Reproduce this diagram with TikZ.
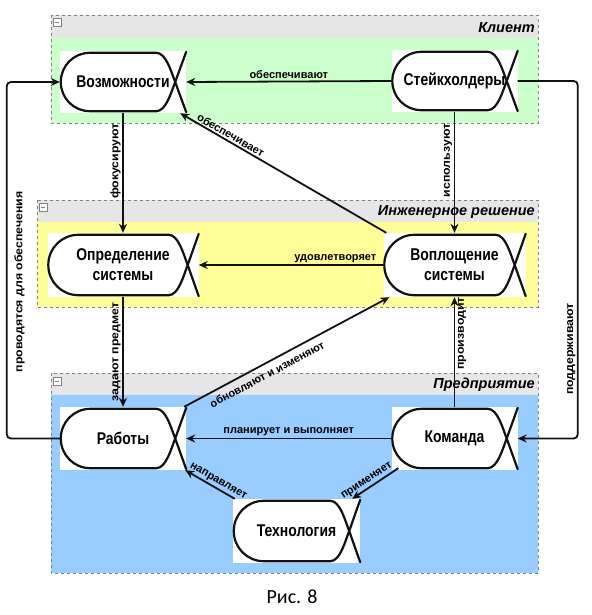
\documentclass[tikz,border=0pt]{standalone}
\usepackage{fontspec}
\setmainfont{Liberation Sans}
\newfontfamily\nodefont[FakeStretch=0.82]{Liberation Sans}
\newfontfamily\vfont[FakeStretch=1.12]{Liberation Sans}
\newfontfamily\capfont{Carlito}
\usetikzlibrary{arrows.meta,calc}
\definecolor{cgreen}{HTML}{CCFFCC}
\definecolor{cyellow}{HTML}{FFFF99}
\definecolor{cblue}{HTML}{99CCFF}
\definecolor{chead}{HTML}{E6E6E6}
\definecolor{cborder}{HTML}{808080}
\definecolor{cline}{HTML}{111111}
\begin{document}
\begin{tikzpicture}[x=1pt,y=-1pt,
  actor/.style={fill=white, inner sep=0pt, minimum height=62pt, font=\nodefont\bfseries\fontsize{17}{20}\selectfont, align=center},
  outl/.style={draw=cline, line width=2.2pt, line cap=round, line join=round},
  conn/.style={draw=cline, line width=1.8pt, -{Stealth[length=9pt,width=8pt]}},
  lbl/.style={font=\bfseries\fontsize{11}{12}\selectfont, inner sep=1.5pt},
  vlbl/.style={font=\vfont\bfseries\fontsize{11}{12}\selectfont, inner sep=1.5pt, rotate=90},
  ctitle/.style={font=\bfseries\itshape\fontsize{14.5}{16}\selectfont, anchor=east, inner sep=1pt},
  cframe/.style={draw=cborder, dashed, line width=0.6pt},
  mbox/.style={draw=cborder, line width=0.5pt}
]
\useasboundingbox (0,0) rectangle (591,615);

% container 1
\fill[chead] (51,15) rectangle (538,38);
\fill[cgreen] (51,38) rectangle (538,123);
\draw[cframe] (51,15) rectangle (538,123);
\draw[mbox, fill=white] (53,18) rectangle (61,26); \draw[mbox] (55,22) -- (59,22);
\node[ctitle] (t1) at (536,28) {Клиент};
% container 2
\fill[chead] (37,200) rectangle (538,222);
\fill[cyellow] (37,222) rectangle (538,307);
\draw[cframe] (37,200) rectangle (538,307);
\draw[mbox, fill=white] (39,203) rectangle (47,211); \draw[mbox] (41,207) -- (45,207);
\node[ctitle] (t2) at (536,212) {Инженерное решение};
% container 3
\fill[chead] (51,373) rectangle (538,395);
\fill[cblue] (51,395) rectangle (538,573);
\draw[cframe] (51,373) rectangle (538,573);
\draw[mbox, fill=white] (53,377) rectangle (61,385); \draw[mbox] (55,381) -- (59,381);
\node[ctitle] (t3) at (536,385) {Предприятие};

% nodes
\node[actor, minimum width=126pt] (voz) at (123,82) {Возможности};
\node[actor, minimum width=126pt] (stk) at (454.5,81) {Стейкхолдеры};
\node[actor, minimum width=151pt, minimum height=64pt] (opr) at (123,265) {Определение\\системы};
\node[actor, minimum width=142pt, minimum height=64pt] (vop) at (454.5,265) {Воплощение\\системы};
\node[actor, minimum width=126pt, minimum height=63pt] (rab) at (123,438.5) {Работы};
\node[actor, minimum width=126pt, minimum height=63pt] (kom) at (454.5,438.5) {Команда};
\node[actor, minimum width=127pt, minimum height=64pt] (tech) at (296.5,531) {Технология};

\foreach \n/\r in {voz/29, stk/29, opr/30, vop/30, rab/29.5, kom/29.5, tech/30} {
  \draw[outl, rounded corners=\r pt] ($(\n.north east)+(-30,2)$) -- ($(\n.north west)+(1,2)$) -- ($(\n.south west)+(1,-2)$) -- ($(\n.south east)+(-30,-2)$);
  \draw[outl] ($(\n.north east)+(-30,2)$) .. controls ($(\n.north east)+(-20,2)$) and ($(\n.east)+(-15,-10)$) .. ($(\n.east)+(-11,0)$) -- ($(\n.south east)+(0,-1)$);
  \draw[outl] ($(\n.south east)+(-30,-2)$) .. controls ($(\n.south east)+(-20,-2)$) and ($(\n.east)+(-15,10)$) .. ($(\n.east)+(-11,0)$) -- ($(\n.north east)+(0,1)$);
}

% connectors
\draw[conn] (stk.west) -- node[lbl, above, pos=0.5] (l1) {обеспечивают} (voz.east);
\draw[conn] ($(vop.north west)+(3,0)$) -- node[lbl, sloped, above, pos=0.77] (l2) {обеспечивает} ($(voz.south east)+(-6,0)$);
\draw[conn] (voz.south) -- node[vlbl, anchor=south, pos=0.4] (l3) {фокусируют} (opr.north);
\draw[conn] (stk.south) -- node[vlbl, anchor=south, pos=0.4] (l4) {используют} (vop.north);
\draw[conn] (vop.west) -- node[lbl, above, pos=0.26] (l5) {удовлетворяет} (opr.east);
\draw[conn] (opr.south) -- node[vlbl, anchor=south, midway] (l6) {задают предмет} (rab.north);
\draw[conn, rounded corners=4pt] (rab.west) -- ++(-53,0) |- node[vlbl, anchor=north, outer sep=6pt, pos=0.22] (l7) {проводятся для обеспечения} (voz.west);
\draw[conn] ($(rab.north east)+(-2,0)$) -- node[lbl, sloped, below=4pt, pos=0.38] (l8) {обновляют и изменяют} ($(vop.south west)+(6,0)$);
\draw[conn] (kom.west) -- node[lbl, above, midway] (l9) {планирует и выполняет} (rab.east);
\draw[conn] (kom.north) -- node[vlbl, anchor=north, outer sep=2pt, pos=0.67] (l10) {производит} (vop.south);
\draw[conn, rounded corners=4pt] (stk.east) -- ++(60,0) |- node[vlbl, anchor=south, pos=0.375] (l11) {поддерживают} (kom.east);
\draw[conn] ($(tech.north west)+(2,0)$) -- node[lbl, sloped, above, pos=0.4] (l12) {направляет} ($(rab.south east)+(-1,0)$);
\draw[conn] ($(kom.south west)+(7,-2)$) -- node[lbl, sloped, above, pos=0.6] (l13) {применяет} ($(tech.north east)+(-8,0)$);

\node[font=\capfont\fontsize{20}{24}\selectfont] (cap) at (292,597) {Рис. 8};
\end{tikzpicture}
\end{document}
